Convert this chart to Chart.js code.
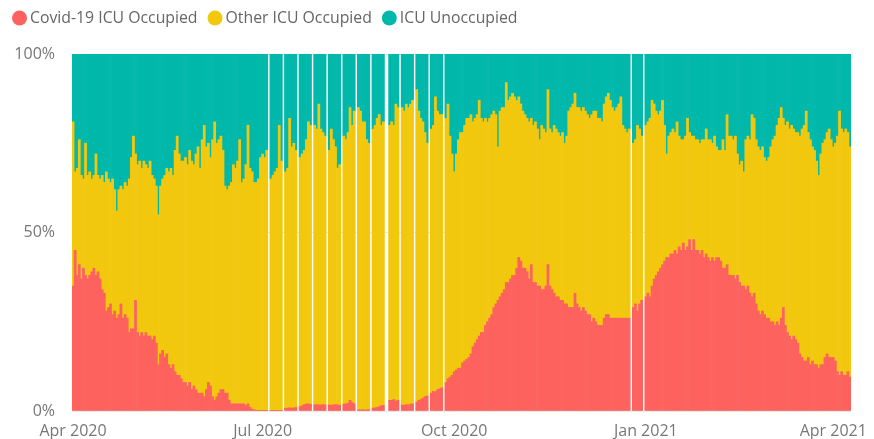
<!DOCTYPE html>
<html>
<head>
<meta charset="utf-8">
<script src="https://cdn.jsdelivr.net/npm/chart.js@4.4.1/dist/chart.umd.min.js"></script>
<style>
  html, body { margin: 0; padding: 0; background: #ffffff; }
  #wrap { width: 874px; height: 439px; }
</style>
</head>
<body>
<div id="wrap"><canvas id="icu" width="874" height="439"></canvas></div>
<script>
// Daily ICU bed shares (%), 1 Apr 2020 - 9 Apr 2021; null = no report that day
const startDate = '2020-04-01';

const seriesNames = ['Covid-19 ICU Occupied', 'Other ICU Occupied', 'ICU Unoccupied'];
const seriesColors = ['#FD625E', '#F2C80F', '#01B8AA'];

const tickDates = ['2020-04-01', '2020-07-01', '2020-10-01', '2021-01-01', '2021-04-01'];
const tickLabels = ['Apr 2020', 'Jul 2020', 'Oct 2020', 'Jan 2021', 'Apr 2021'];

const covid = [
  // Apr 2020
  35,45,38,41,37,40,38,37,38,39,40,38,39,37,34,33,28,29,30,27,28,26,27,30,26,27,26,22,23,23,
  // May
  31,22,21,22,21,22,21,21,20,21,19,13,16,17,15,16,13,12,13,11,10,10,9,8,8,7,8,6,7,6,5,
  // Jun
  5,5,4,6,8,7,4,3,4,5,6,6,5,5,3,2,2,2,2,2,2,2,1.5,2,1,0.5,0.3,0.2,0.2,0.1,
  // Jul
  0.1,0.1,0.1,null,0.1,0.1,0.1,0.1,0.1,0.1,null,0.8,0.8,0.9,0.8,0.9,1,null,1.2,1.5,1.8,2,2,1.9,null,1.7,1.8,1.7,1.7,1.8,1.7,
  // Aug
  null,1.7,1.6,1.7,1.8,1.7,1.6,null,1.9,2,2.2,3,2.4,2,null,0.3,0.3,0.4,0.3,0.3,0.4,null,0.8,0.9,1,1.2,1.5,1.6,null,null,3,
  // Sep
  3,3.2,2.8,3,null,1.7,1.6,1.8,1.7,1.9,2,null,2.5,3,3.2,3.6,4,4.2,null,5,5.5,5.4,6,6.2,6.5,null,8,9,9.5,10,
  // Oct
  11,11.5,12,12,13.5,14,14.5,15,16,18,19,20,21,22,22,24,25,26,27,29,30,31,32,33,34,36,36,37,38,38,40,
  // Nov
  43,42,40,40,39,37,41,36,36,35,35,34,34,35,41,35,34,33,32,32,31,31,30,30,29,29,29,33,30,29,
  // Dec
  28,29,28,27,27,25,26,25,24,24,24,26,27,27,26,26,26,26,26,26,26,26,26,26,null,29,30,28,30,31,null,
  // Jan 2021
  32,33,32,35,37,38,39,40,41,42,43,43,44,44,45,44,46,45,47,45,46,48,45,48,45,45,44,45,43,44,43,
  // Feb
  42,43,42,43,43,42,40,40,41,38,38,38,37,38,36,35,35,34,35,33,32,33,30,28,27,28,27,26,
  // Mar
  26,25,25,24,25,24,26,29,24,22,21,20,21,20,19,16,15,14,14,15,13,14,13,13,12,13,13,15,16,15,15,
  // Apr
  15,14,11,10,11,10,10,11,9.5
];

const other = [
  // Apr 2020
  46,22,30,35,29,25,37,29,29,26,26,34,27,28,32,31,39,36,34,38,34,30,35,33,36,37,37,43,48,54,
  // May
  41,47,49,46,49,47,47,49,46,44,44,42,47,48,51,52,54,56,53,62,67,62,61,62,63,62,65,64,62,66,69,
  // Jun
  63,71,76,68,67,64,72,78,71,71,71,67,58,57,60,62,67,66,68,74,62,63,67.5,78,67,66.5,63.7,63.8,64.8,70.9,
  // Jul
  71.9,70.9,72.9,null,64.9,65.9,66.9,67.9,79.9,69.9,null,66.2,67.2,81.1,73.2,74.1,72,null,69.8,70.5,71.2,74,79,78.1,null,78.3,77.2,84.3,77.3,76.2,75.3,
  // Aug
  null,71.3,77.4,74.3,72.2,66.3,67.4,null,75.1,74,75.8,82,77.6,82,null,84.7,83.7,80.6,80.7,75.7,74.6,null,78.2,79.1,81,81.8,78.5,79.4,null,null,77,
  // Sep
  78,76.8,83.2,82,null,83.3,82.4,84.2,83.3,84.1,85,null,87.5,81,78.8,77.4,74,70.8,null,74,74.5,82.6,78,76.8,76.5,null,74,77,67.5,62,
  // Oct
  56,60.5,64,66,64.5,66,67.5,67,67,63,63,63,66,60,59,58,56,56,56,55,53,43,52,52,51,56,51,51,51,50,47,
  // Nov
  45,44,44,43,43,44,41,44,45,44,41,46,45,43,49,44,44,47,47,46,46,47,45,47,55,56,57,56,55,56,
  // Dec
  56,56,56,56,55,58,58,59,58,58,57,60,61,62,61,59,58,59,60,62,54,53,52,53,null,46,46,52,49,46,null,
  // Jan 2021
  48,48,50,52,49,46,44,44,46,38,29,34,34,35,33,37,31,31,29,32,36,30,32,29,31,31,31,31,33,35,33,
  // Feb
  34,32,35,31,30,31,36,33,42,39,39,38,40,34,33,35,32,42,42,43,51,49,46,46,46,46,44,44,
  // Mar
  45,49,51,53,55,58,59,53,56,59,58,60,58,58,59,61,64,66,70,63,63,60,60,57,54,59,62,61,62,64,61,
  // Apr
  59,61,66,74,68,68,69,67,64.5
];

const unoccupied = [
  // Apr 2020
  19,33,32,24,34,35,25,34,33,35,34,28,34,35,34,36,33,35,36,35,38,44,38,37,38,36,37,35,29,23,
  // May
  28,31,30,32,30,31,32,30,34,35,37,45,37,35,34,32,33,32,34,27,23,28,30,30,29,31,27,30,31,28,26,
  // Jun
  32,24,20,26,25,29,24,19,25,24,23,27,37,38,37,36,31,32,30,24,36,35,31,20,32,33,36,36,35,29,
  // Jul
  28,29,27,null,35,34,33,32,20,30,null,33,32,18,26,25,27,null,29,28,27,24,19,20,null,20,21,14,21,22,23,
  // Aug
  null,27,21,24,26,32,31,null,23,24,22,15,20,16,null,15,16,19,19,24,25,null,21,20,18,17,20,19,null,null,20,
  // Sep
  19,20,14,15,null,15,16,14,15,14,13,null,10,16,18,19,22,25,null,21,20,12,16,17,17,null,18,14,23,28,
  // Oct
  33,28,24,22,22,20,18,18,17,19,18,17,13,18,19,18,19,18,17,16,17,26,16,15,15,8,13,12,11,12,13,
  // Nov
  12,14,16,17,18,19,18,20,19,21,24,20,21,22,10,21,22,20,21,22,23,22,25,23,16,15,14,11,15,15,
  // Dec
  16,15,16,17,18,17,16,16,18,18,19,14,12,11,13,15,16,15,14,12,20,21,22,21,null,25,24,20,21,23,null,
  // Jan 2021
  20,19,18,13,14,16,17,16,13,20,28,23,22,21,22,19,23,24,24,23,18,22,23,23,24,24,25,24,24,21,24,
  // Feb
  24,25,23,26,27,27,24,27,17,23,23,24,23,28,31,30,33,24,23,24,17,18,24,26,27,26,29,30,
  // Mar
  29,26,24,23,20,18,15,18,20,19,21,20,21,22,22,23,21,20,16,22,24,26,27,30,34,28,25,24,22,21,24,
  // Apr
  26,25,23,16,21,22,21,22,26
];

// one category per calendar day
function isoDay(base, offset) {
  const d = new Date(base + 'T00:00:00Z');
  d.setUTCDate(d.getUTCDate() + offset);
  return d.toISOString().slice(0, 10);
}
const days = covid.map((_, i) => isoDay(startDate, i));

const FONT = '"Segoe UI", "Open Sans", "Noto Sans", sans-serif';
const LEGEND_TEXT = '#666666';
const TICK_TEXT = '#777777';

// single-row legend: dot, short gap, series name
const dotLegend = {
  id: 'dotLegend',
  afterDraw(chart, args, opts) {
    const ctx = chart.ctx;
    ctx.save();
    ctx.font = opts.fontSize + 'px ' + FONT;
    ctx.textBaseline = 'middle';
    ctx.textAlign = 'left';
    let x = opts.left;
    chart.data.datasets.forEach((ds) => {
      ctx.fillStyle = ds.backgroundColor;
      ctx.beginPath();
      ctx.arc(x + opts.radius, opts.centerY, opts.radius, 0, Math.PI * 2);
      ctx.fill();
      x += opts.radius * 2 + opts.dotGap;
      ctx.fillStyle = LEGEND_TEXT;
      ctx.fillText(ds.label, x, opts.centerY + 0.5);
      x += ctx.measureText(ds.label).width + opts.itemGap;
    });
    ctx.restore();
  }
};

const makeSet = (i, values) => ({
  label: seriesNames[i],
  data: values,
  backgroundColor: seriesColors[i],
  borderWidth: 0,
  barPercentage: 1,
  categoryPercentage: 1
});

new Chart(document.getElementById('icu'), {
  type: 'bar',
  data: {
    labels: days,
    datasets: [makeSet(0, covid), makeSet(1, other), makeSet(2, unoccupied)]
  },
  options: {
    responsive: false,
    animation: false,
    layout: { padding: { left: 0, right: 23, top: 54, bottom: 0 } },
    plugins: {
      tooltip: { enabled: false },
      legend: { display: false },
      dotLegend: { left: 12, centerY: 18, radius: 7.5, dotGap: 3, itemGap: 10, fontSize: 15.8 }
    },
    scales: {
      x: {
        stacked: true,
        grid: { display: false, drawTicks: false },
        border: { display: false },
        ticks: {
          autoSkip: false,
          maxRotation: 0,
          minRotation: 0,
          padding: 11,
          color: TICK_TEXT,
          font: { family: FONT, size: 16 },
          callback: function (value, index) {
            const k = tickDates.indexOf(days[index]);
            return k >= 0 ? tickLabels[k] : '';
          }
        },
        afterFit: (s) => { s.height = 28; }
      },
      y: {
        stacked: true,
        min: 0,
        max: 100,
        grid: { color: '#e9e9e9', drawTicks: false },
        border: { display: false },
        ticks: {
          stepSize: 50,
          padding: 17,
          color: TICK_TEXT,
          font: { family: FONT, size: 16 },
          callback: (v) => v + '%'
        },
        afterFit: (s) => { s.width = 72; }
      }
    }
  },
  plugins: [dotLegend]
});
</script>
</body>
</html>
